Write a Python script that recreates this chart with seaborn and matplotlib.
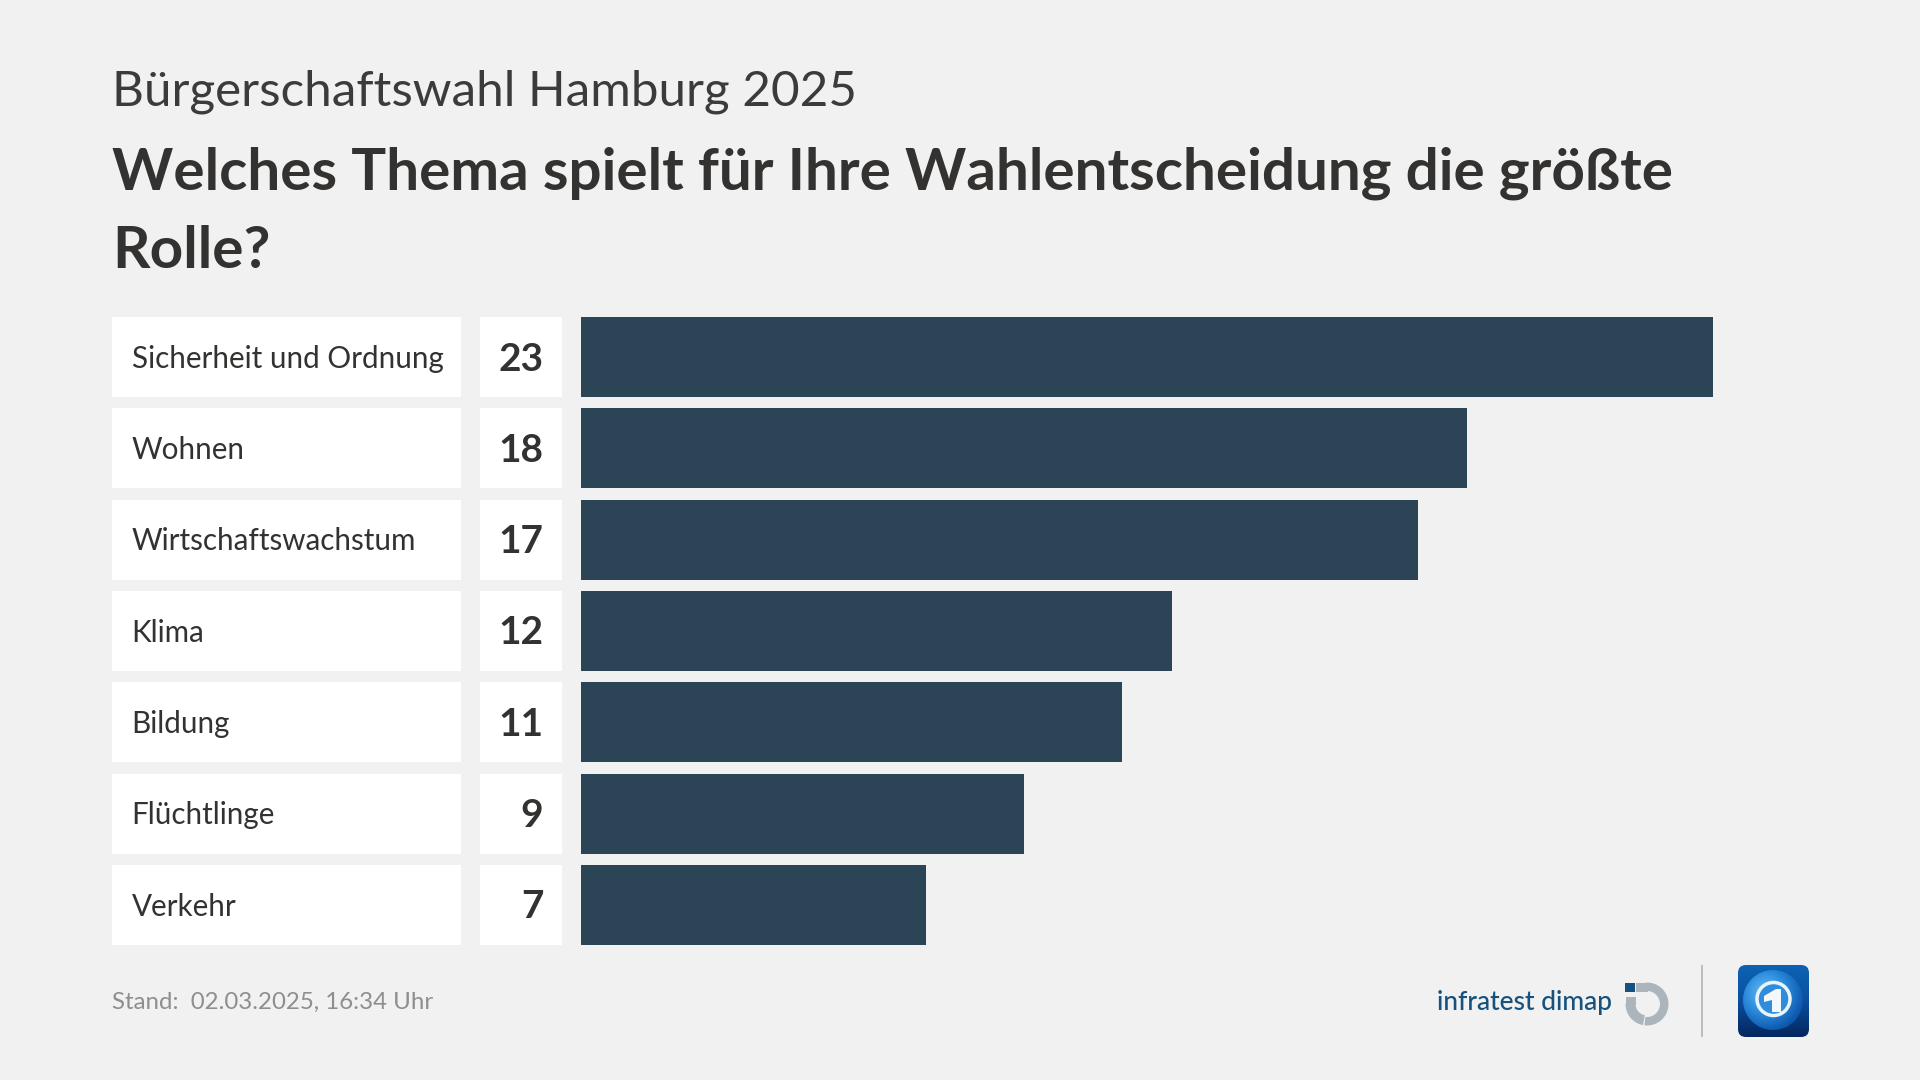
import matplotlib
matplotlib.use("Agg")
import matplotlib.pyplot as plt
import numpy as np
import pandas as pd
import seaborn as sns
from matplotlib.colors import LinearSegmentedColormap
from matplotlib.patches import Rectangle, FancyBboxPatch, Wedge, Circle, Polygon
from matplotlib.transforms import blended_transform_factory

categories = ["Sicherheit und Ordnung", "Wohnen", "Wirtschaftswachstum", "Klima",
              "Bildung", "Flüchtlinge", "Verkehr"]
values = [23, 18, 17, 12, 11, 9, 7]
subtitle = "Bürgerschaftswahl Hamburg 2025"
title_lines = ["Welches Thema spielt für Ihre Wahlentscheidung die größte", "Rolle?"]
footer = "Stand:  02.03.2025, 16:34 Uhr"
pollster = "infratest dimap"

BG = "#f1f1f1"
BAR = "#2b4456"
INK = "#333230"
FONT = "Lato"
W, H = 1920, 1080

sns.set_theme(style="white", rc={"figure.facecolor": BG, "axes.facecolor": "none"})
plt.rcParams["font.family"] = [FONT, "DejaVu Sans"]

fig = plt.figure(figsize=(W / 100, H / 100), dpi=100, facecolor=BG)

# pixel overlay for page furniture
pg = fig.add_axes([0, 0, 1, 1], zorder=0)
pg.set_xlim(0, W); pg.set_ylim(H, 0); pg.axis("off")

# chart axes: x 581..1713 px, rows 317..945 px
pitch = 548 / 6
top = 317 + 40 - pitch / 2
bot = 945 - 40 + pitch / 2
ax = fig.add_axes([581 / W, 1 - bot / H, (1713 - 581) / W, (bot - top) / H], zorder=1)
df = pd.DataFrame({"Thema": categories, "Wert": values})
sns.barplot(data=df, x="Wert", y="Thema", color=BAR, saturation=1, width=80 / pitch,
            linewidth=0, edgecolor="none", ax=ax)
ax.set_xlim(0, max(values))
ax.set_ylim(len(values) - 0.5, -0.5)
ax.axis("off")

trans = blended_transform_factory(pg.transData, ax.transData)
half = 40 / pitch
nudge = 1 / pitch
for i, (c, v) in enumerate(zip(categories, values)):
    pg_box = dict(transform=trans, facecolor="white", edgecolor="none", clip_on=False)
    ax.add_patch(Rectangle((112, i - half), 349, 2 * half, **pg_box))
    ax.add_patch(Rectangle((480, i - half), 82, 2 * half, **pg_box))
    ax.text(131.5, i - nudge, c, transform=trans, ha="left", va="center_baseline", fontsize=21.3,
            color=INK, clip_on=False)
    ax.text(543.5, i - nudge, str(v), transform=trans, ha="right", va="center_baseline", fontsize=28,
            fontweight="bold", color=INK, clip_on=False)

pg.text(112.5, 106, subtitle, fontsize=35.6, color="#3c3b39", va="baseline")
pg.text(112.5, 189.5, title_lines[0], fontsize=42, fontweight="bold", color=INK, va="baseline")
pg.text(112.5, 268, title_lines[1], fontsize=42, fontweight="bold", color=INK, va="baseline")
pg.text(112.5, 1009, footer, fontsize=17.3, color="#8e8e8e", va="baseline")

# pollster logo
pg.text(1437, 1010, pollster, fontsize=19, fontweight="medium", color="#17527e", va="baseline")
pg.add_patch(Rectangle((1625, 983), 10, 9, facecolor="#15507f", edgecolor="none"))
grey = "#abb5bb"
pg.add_patch(Rectangle((1636, 983), 12, 8.5, facecolor=grey, edgecolor="none"))
pg.add_patch(Wedge((1647, 1004), 21.5, -92, 97, width=8.5, facecolor=grey, edgecolor="none"))
pg.add_patch(Wedge((1647, 1004), 21.5, 101, 180, width=10, facecolor=grey, edgecolor="none"))
pg.add_patch(Rectangle((1625.5, 997), 10, 8, facecolor=grey, edgecolor="none"))

# separator
pg.add_patch(Rectangle((1701, 965), 2, 72, facecolor="#bdbdbd", edgecolor="none"))

# broadcaster icon
box = FancyBboxPatch((1738 + 7, 965 + 7), 71 - 14, 72 - 14,
                     boxstyle="round,pad=7,rounding_size=8", facecolor="none", edgecolor="none")
pg.add_patch(box)
grad = np.linspace(0, 1, 64)[:, None]
im = pg.imshow(grad, extent=(1738, 1809, 1037, 965), aspect="auto", zorder=2,
               cmap=LinearSegmentedColormap.from_list("tag", ["#0d62b4", "#0a4f9e", "#03275f"]))
im.set_clip_path(box)
yy, xx = np.mgrid[-1:1:128j, -1:1:128j]
rad = np.hypot(xx + 0.25, yy + 0.25)
globe = pg.imshow(rad, extent=(1743, 1803, 1030, 970), aspect="auto", zorder=3, vmin=0, vmax=1.3,
                  cmap=LinearSegmentedColormap.from_list("glb", ["#6dbdf5", "#2e8fdf", "#0d57ad"]))
disc = Circle((1773, 1000), 30, transform=pg.transData, facecolor="none", edgecolor="none")
pg.add_patch(disc)
globe.set_clip_path(disc)
pg.set_xlim(0, W); pg.set_ylim(H, 0)
pg.add_patch(Circle((1773.5, 999), 16.5, facecolor="#2f8ddb", edgecolor="#eaf4fb", linewidth=2.5, zorder=4))
pg.add_patch(Polygon([(1764, 996), (1776, 989), (1781, 989), (1781, 1012), (1772, 1012),
                      (1772, 1000), (1764, 1002)], facecolor="#f2f8fc", edgecolor="none", zorder=5))

fig.savefig("out.png", dpi=100, facecolor=BG)
